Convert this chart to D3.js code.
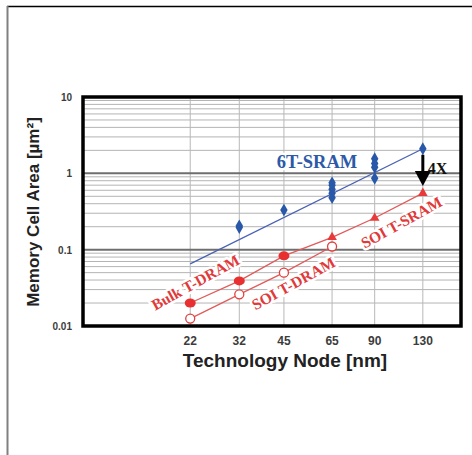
<!DOCTYPE html>
<html>
<head>
<meta charset="utf-8">
<script src="https://cdn.jsdelivr.net/npm/d3@7"></script>
<style>
  body { margin: 0; background: white; }
  svg { display: block; }
</style>
</head>
<body>
<main></main>
<script>
// technology nodes (nm) and tick labels
const nodes = [22, 32, 45, 65, 90, 130]
const yTicks = [0.01, 0.1, 1, 10]
const yTickLabels = ["0.01", "0.1", "1", "10"]

// 6T-SRAM reported cells (several per node)
const sramNodes = [32, 32, 45, 65, 65, 65, 65, 65, 90, 90, 90, 90, 130]
const sramArea  = [0.195, 0.205, 0.33, 0.48, 0.55, 0.62, 0.70, 0.75, 0.86, 1.2, 1.35, 1.55, 2.1]
// 6T-SRAM trend line ends
const sramFitNodes = [22, 130]
const sramFitArea  = [0.065, 2.1]

// Bulk T-DRAM (filled circles)
const bulkNodes = [22, 32, 45]
const bulkArea  = [0.020, 0.039, 0.083]
// SOI T-DRAM (open circles)
const soiDramNodes = [22, 32, 45, 65]
const soiDramArea  = [0.0125, 0.026, 0.050, 0.11]
// SOI T-SRAM (triangles)
const soiSramNodes = [65, 90, 130]
const soiSramArea  = [0.145, 0.26, 0.55]

// 4X arrow at 130nm
const arrowNode = 130
const arrowArea = [1.75, 0.68]

const svgWidth = 472
const svgHeight = 455
const plotLeft = 83, plotRight = 461, plotTop = 97, plotBottom = 326

let svg = d3.select("main")
    .append("svg")
    .attr("width", svgWidth)
    .attr("height", svgHeight)

// outer frame (top black, left gray)
svg.append("line").attr("x1", 7).attr("x2", svgWidth).attr("y1", 6.5).attr("y2", 6.5)
    .attr("stroke", "black").attr("stroke-width", 1.5)
svg.append("line").attr("x1", 7.5).attr("x2", 7.5).attr("y1", 6).attr("y2", svgHeight)
    .attr("stroke", "#808080").attr("stroke-width", 2)

let xScale = d3.scaleLog().domain([9.7, 174]).range([plotLeft, plotRight])
let yScale = d3.scaleLog().domain([0.01, 10]).range([plotBottom, plotTop])

// grid: minor horizontal lines
let minor = []
for (let dec of [0.01, 0.1, 1]) {
  for (let k = 2; k <= 9; k++) minor.push(dec * k)
}
let grid = svg.append("g")
grid.selectAll(".minor")
  .data(minor)
  .enter()
  .append("line")
    .attr("x1", plotLeft).attr("x2", plotRight)
    .attr("y1", d => yScale(d)).attr("y2", d => yScale(d))
    .attr("stroke", "#b4b4b4").attr("stroke-width", 1)

grid.selectAll(".vert")
  .data(nodes)
  .enter()
  .append("line")
    .attr("x1", d => xScale(d)).attr("x2", d => xScale(d))
    .attr("y1", plotTop).attr("y2", plotBottom)
    .attr("stroke", "#b8b8b8").attr("stroke-width", 1)

grid.selectAll(".major")
  .data([0.1, 1])
  .enter()
  .append("line")
    .attr("x1", plotLeft).attr("x2", plotRight)
    .attr("y1", d => yScale(d)).attr("y2", d => yScale(d))
    .attr("stroke", "#6e6e6e").attr("stroke-width", 2)

// tick labels
svg.selectAll(".ytick")
  .data(yTicks)
  .enter()
  .append("text")
    .attr("x", 72)
    .attr("y", d => yScale(d) + 4)
    .attr("text-anchor", "end")
    .style("font", "bold 10px 'Liberation Sans', Arial, sans-serif")
    .attr("fill", "#3c3c3c")
    .text((d, i) => yTickLabels[i])

svg.selectAll(".xtick")
  .data(nodes)
  .enter()
  .append("text")
    .attr("x", d => xScale(d))
    .attr("y", 345)
    .attr("text-anchor", "middle")
    .style("font", "bold 12px 'Liberation Sans', Arial, sans-serif")
    .attr("fill", "#3c3c3c")
    .text(d => d)

// axis titles
svg.append("text")
    .attr("transform", "translate(39, 212) rotate(-90)")
    .attr("text-anchor", "middle")
    .style("font", "bold 17px 'Liberation Sans', Arial, sans-serif")
    .attr("fill", "#222")
    .text("Memory Cell Area [\u00b5m\u00b2]")

svg.append("text")
    .attr("x", 285)
    .attr("y", 367)
    .attr("text-anchor", "middle")
    .style("font", "bold 19px 'Liberation Sans', Arial, sans-serif")
    .attr("fill", "#222")
    .text("Technology Node [nm]")

const zip = (xs, ys) => xs.map((x, i) => [x, ys[i]])
let line = d3.line().x(d => xScale(d[0])).y(d => yScale(d[1]))

// lines
svg.append("path")
    .datum(zip(sramFitNodes, sramFitArea))
    .attr("d", line)
    .attr("fill", "none").attr("stroke", "#4a62b4").attr("stroke-width", 1.3)

svg.append("path")
    .datum(zip(bulkNodes, bulkArea).concat(zip(soiSramNodes, soiSramArea)))
    .attr("d", line)
    .attr("fill", "none").attr("stroke", "#e25a5a").attr("stroke-width", 1.3)

svg.append("path")
    .datum(zip(soiDramNodes, soiDramArea))
    .attr("d", line)
    .attr("fill", "none").attr("stroke", "#e25a5a").attr("stroke-width", 1.3)

// labels with white halo
function label(txt, x, y, angle, color, size) {
  svg.append("text")
    .attr("transform", `translate(${x}, ${y}) rotate(${angle})`)
    .attr("text-anchor", "middle")
    .style("font", `bold ${size}px 'Liberation Serif', 'Times New Roman', serif`)
    .style("paint-order", "stroke")
    .attr("stroke", "white").attr("stroke-width", 5).attr("stroke-linejoin", "round")
    .attr("fill", color)
    .text(txt)
}
label("6T-SRAM", 317, 168, 0, "#2d5aa8", 18.5)
label("Bulk T-DRAM", 198, 287, -29, "#e03a3a", 15.5)
label("SOI T-DRAM", 296, 288, -29, "#e03a3a", 15.5)
label("SOI T-SRAM", 404, 227, -29, "#e03a3a", 15.5)

// markers
svg.append("g")
  .selectAll("path")
  .data(zip(sramNodes, sramArea))
  .enter()
  .append("path")
    .attr("d", d3.symbol().type(d3.symbolDiamond).size(48))
    .attr("transform", d => `translate(${xScale(d[0])}, ${yScale(d[1])})`)
    .attr("fill", "#2a58a8")

svg.append("g")
  .selectAll("ellipse")
  .data(zip(bulkNodes, bulkArea))
  .enter()
  .append("ellipse")
    .attr("cx", d => xScale(d[0])).attr("cy", d => yScale(d[1]))
    .attr("rx", 5.5).attr("ry", 4.5)
    .attr("fill", "#e83030")

svg.append("g")
  .selectAll("circle")
  .data(zip(soiDramNodes, soiDramArea))
  .enter()
  .append("circle")
    .attr("cx", d => xScale(d[0])).attr("cy", d => yScale(d[1]))
    .attr("r", 4.5)
    .attr("fill", "white").attr("stroke", "#e04040").attr("stroke-width", 1.3)

svg.append("g")
  .selectAll("path")
  .data(zip(soiSramNodes, soiSramArea))
  .enter()
  .append("path")
    .attr("d", d3.symbol().type(d3.symbolTriangle).size(40))
    .attr("transform", d => `translate(${xScale(d[0])}, ${yScale(d[1])})`)
    .attr("fill", "#e83a3a")

// 4X arrow
let ax = xScale(arrowNode)
let ay0 = yScale(arrowArea[0]), ay1 = yScale(arrowArea[1])
svg.append("line")
    .attr("x1", ax).attr("x2", ax).attr("y1", ay0).attr("y2", ay1 - 12)
    .attr("stroke", "black").attr("stroke-width", 3)
svg.append("path")
    .attr("d", `M${ax - 8},${ay1 - 15} L${ax + 8},${ay1 - 15} L${ax},${ay1} Z`)
    .attr("fill", "black")
svg.append("text")
    .attr("x", ax + 5)
    .attr("y", ay0 + 19)
    .style("font", "bold 16px 'Liberation Serif', 'Times New Roman', serif")
    .attr("fill", "#111")
    .text("4X")

// plot frame
svg.append("rect")
    .attr("x", plotLeft).attr("y", plotTop)
    .attr("width", plotRight - plotLeft).attr("height", plotBottom - plotTop)
    .attr("fill", "none").attr("stroke", "black").attr("stroke-width", 3.5)
</script>
</body>
</html>
